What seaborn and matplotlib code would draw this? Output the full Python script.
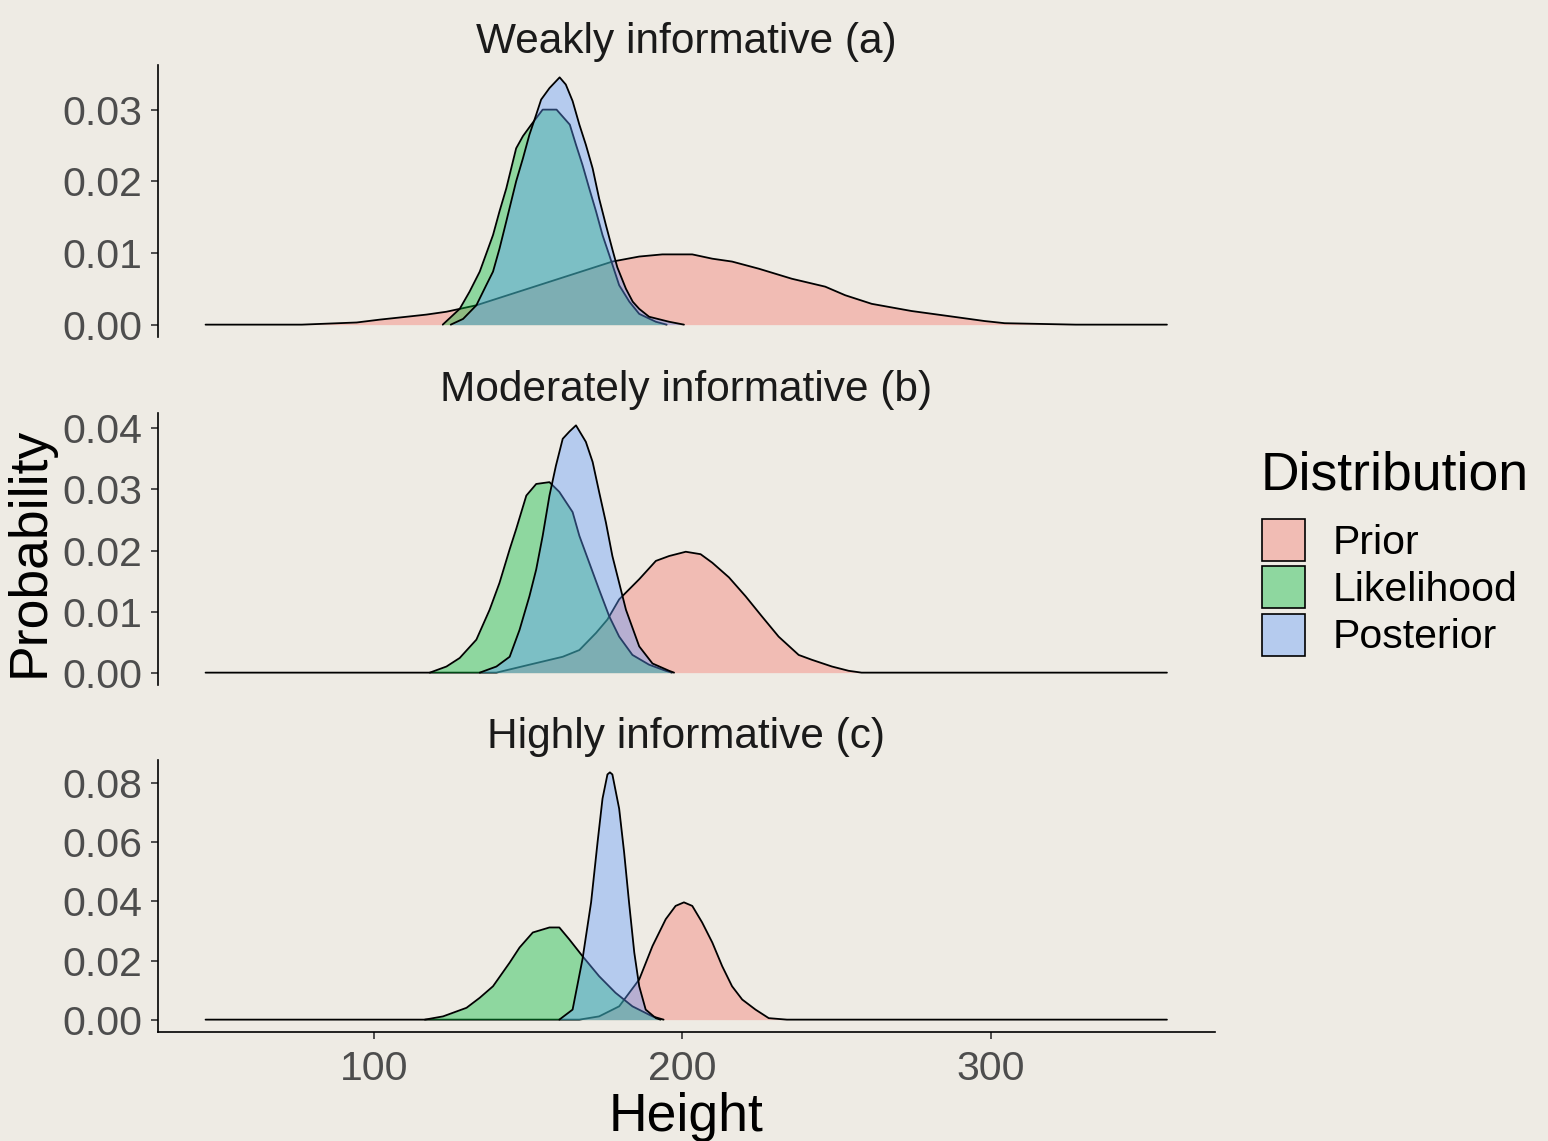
import numpy as np
import pandas as pd
import matplotlib
matplotlib.use("Agg")
import matplotlib.pyplot as plt
import matplotlib.colors as mcolors
from matplotlib.patches import Patch, Rectangle
from matplotlib.legend_handler import HandlerPatch
import seaborn as sns

# ---------------- data ----------------
panel_titles = ["Weakly informative (a)", "Moderately informative (b)", "Highly informative (c)"]
dist_names = ["Prior", "Likelihood", "Posterior"]
dist_colors = ["#F8766D", "#00BA38", "#619CFF"]
x_label = "Height"
y_label = "Probability"
legend_title = "Distribution"
x_ticks = [100, 200, 300]
y_ticks_a = [0.00, 0.01, 0.02, 0.03]
y_ticks_b = [0.00, 0.01, 0.02, 0.03, 0.04]
y_ticks_c = [0.00, 0.02, 0.04, 0.06, 0.08]

# Panel (a) weakly informative
prior_a_x = [45.5, 76.7, 94.5, 102.0, 110.7, 117.1, 123.6, 133.3, 177.4, 186.1, 193.6, 203.3,
             209.8, 216.2, 224.9, 235.6, 246.4, 252.9, 261.5, 274.4, 286.3, 298.1, 304.6, 327.6, 357.2]
prior_a_y = [0.0, 0.0, 0.0003, 0.0007, 0.0011, 0.0014, 0.0018, 0.0027, 0.0088, 0.0095, 0.0098, 0.0098,
             0.0092, 0.0088, 0.0078, 0.0064, 0.0053, 0.0041, 0.0029, 0.0019, 0.0012, 0.0005, 0.0002, 0.0, 0.0]
lik_a_x = [122.4, 127.9, 131.1, 134.4, 138.7, 140.8, 143.0, 144.6, 146.2, 148.4, 151.1, 154.8, 159.3,
           163.6, 165.6, 167.7, 169.9, 172.1, 174.2, 176.4, 179.6, 182.9, 186.1, 191.5, 195.0]
lik_a_y = [0.0, 0.0022, 0.0046, 0.0074, 0.0125, 0.0158, 0.0190, 0.0218, 0.0246, 0.0263, 0.0279, 0.0300, 0.0300,
           0.0279, 0.0251, 0.0223, 0.0190, 0.0158, 0.0125, 0.0097, 0.0055, 0.0032, 0.0015, 0.0004, 0.0]
post_a_x = [125.0, 129.0, 133.3, 136.5, 138.7, 140.8, 143.0, 144.6, 146.2, 148.4, 150.5, 152.7, 154.3,
            157.0, 160.3, 162.3, 164.5, 166.7, 168.8, 171.0, 173.1, 175.3, 177.4, 179.0, 181.8, 184.0,
            186.1, 189.3, 195.8, 200.6]
post_a_y = [0.0, 0.0008, 0.0027, 0.0055, 0.0074, 0.0106, 0.0144, 0.0172, 0.0200, 0.0232, 0.0265, 0.0293, 0.0314,
            0.0330, 0.0345, 0.0335, 0.0312, 0.0279, 0.0251, 0.0218, 0.0176, 0.0139, 0.0105, 0.0080, 0.0050, 0.0032,
            0.0022, 0.0011, 0.0004, 0.0]

# Panel (b) moderately informative
prior_b_x = [45.5, 139.8, 150.5, 161.3, 166.7, 172.1, 175.8, 179.6, 186.1, 191.5, 195.8, 201.2, 206.0,
             209.8, 215.2, 220.6, 225.9, 231.3, 237.8, 242.1, 248.6, 254.0, 258.2, 357.2]
prior_b_y = [0.0, 0.0, 0.0013, 0.0026, 0.0037, 0.0065, 0.0087, 0.0120, 0.0153, 0.0183, 0.0191, 0.0198, 0.0194,
             0.0180, 0.0156, 0.0125, 0.0092, 0.0059, 0.0029, 0.0021, 0.0010, 0.0003, 0.0, 0.0]
lik_b_x = [118.2, 123.6, 127.9, 133.3, 137.6, 140.8, 144.1, 146.2, 149.5, 152.7, 157.0, 160.2, 164.5,
           166.7, 169.9, 173.1, 176.4, 179.6, 183.9, 189.3, 194.7, 196.7]
lik_b_y = [0.0, 0.0010, 0.0024, 0.0054, 0.0103, 0.0147, 0.0202, 0.0235, 0.0290, 0.0309, 0.0312, 0.0296, 0.0263,
           0.0224, 0.0180, 0.0136, 0.0092, 0.0059, 0.0029, 0.0013, 0.0003, 0.0]
post_b_x = [134.4, 139.8, 144.1, 147.3, 150.5, 152.7, 154.8, 157.0, 159.1, 161.3, 163.5, 165.6, 168.8,
            171.0, 173.1, 175.3, 177.4, 179.6, 181.8, 186.1, 190.4, 195.8, 197.4]
post_b_y = [0.0, 0.0010, 0.0026, 0.0070, 0.0125, 0.0169, 0.0224, 0.0290, 0.0339, 0.0383, 0.0395, 0.0405, 0.0378,
            0.0345, 0.0296, 0.0246, 0.0191, 0.0147, 0.0103, 0.0043, 0.0015, 0.0003, 0.0]

# Panel (c) highly informative
prior_c_x = [45.5, 166.7, 173.1, 179.6, 186.1, 190.4, 194.7, 197.9, 200.6, 203.3, 206.5, 209.8, 213.0,
             216.2, 219.5, 223.8, 228.1, 234.0, 357.2]
prior_c_y = [0.0, 0.0, 0.0011, 0.0045, 0.0136, 0.0249, 0.0340, 0.0385, 0.0397, 0.0385, 0.0329, 0.0261, 0.0181,
             0.0113, 0.0068, 0.0034, 0.0005, 0.0, 0.0]
lik_c_x = [116.6, 122.5, 130.1, 134.4, 138.7, 144.1, 147.3, 151.6, 157.0, 160.2, 163.4, 167.7, 173.1,
           178.4, 183.9, 190.4, 194.0]
lik_c_y = [0.0, 0.0011, 0.0040, 0.0074, 0.0113, 0.0193, 0.0244, 0.0295, 0.0312, 0.0312, 0.0272, 0.0215, 0.0147,
           0.0091, 0.0045, 0.0011, 0.0]
post_c_x = [160.2, 164.5, 167.7, 170.5, 172.6, 174.2, 175.8, 176.6, 177.4, 179.6, 181.2, 182.8, 184.5,
            186.1, 188.2, 191.5, 193.0]
post_c_y = [0.0, 0.0034, 0.0204, 0.0397, 0.0601, 0.0748, 0.0830, 0.0837, 0.0830, 0.0714, 0.0567, 0.0397, 0.0227,
            0.0113, 0.0034, 0.0005, 0.0]

# ---------------- assemble long table ----------------
series = [
    (0, "Prior", prior_a_x, prior_a_y), (0, "Likelihood", lik_a_x, lik_a_y), (0, "Posterior", post_a_x, post_a_y),
    (1, "Prior", prior_b_x, prior_b_y), (1, "Likelihood", lik_b_x, lik_b_y), (1, "Posterior", post_b_x, post_b_y),
    (2, "Prior", prior_c_x, prior_c_y), (2, "Likelihood", lik_c_x, lik_c_y), (2, "Posterior", post_c_x, post_c_y),
]
frames = []
for p, d, xs, ys in series:
    frames.append(pd.DataFrame({"panel": panel_titles[p], "dist": d, "x": xs, "y": ys}))
df = pd.concat(frames, ignore_index=True)
y_ticks_all = [y_ticks_a, y_ticks_b, y_ticks_c]

# ---------------- styling ----------------
sns.set_theme(style="white")
plt.rcParams["font.family"] = ["Liberation Sans", "DejaVu Sans"]

BG = "#EEEBE4"
TICK_COL = "#4D4D4D"
BASE = 29.5
STRIP = 30.5
TITLE = 38.5
ALPHA = 0.4
LW = 1.3

W, H = 1548, 1141
fig = plt.figure(figsize=(W / 100, H / 100), dpi=100, facecolor=BG)

left_px, right_px = 157.5, 1215
panel_tops = [65, 413, 760]
panel_h = 272

xmin, xmax = df["x"].min(), df["x"].max()
xr = xmax - xmin
xlim = (xmin - 0.05 * xr, xmax + 0.05 * xr)

color_map = dict(zip(dist_names, dist_colors))
axes = []
for i, title in enumerate(panel_titles):
    top = panel_tops[i]
    ax = fig.add_axes([left_px / W, 1 - (top + panel_h) / H, (right_px - left_px) / W, panel_h / H])
    ax.set_facecolor(BG)
    sub = df[df["panel"] == title]
    for k, d in enumerate(dist_names):
        s = sub[sub["dist"] == d]
        ax.fill_between(s["x"], 0, s["y"], color=color_map[d], alpha=ALPHA, linewidth=0, zorder=2 + 2 * k)
        sns.lineplot(data=s, x="x", y="y", color="black", linewidth=LW, ax=ax,
                     zorder=2.5 + 2 * k, legend=False, sort=True, estimator=None)
    ymax = sub["y"].max()
    ax.set_ylim(-0.05 * ymax, 1.05 * ymax)
    ax.set_xlim(*xlim)
    ax.set_yticks(y_ticks_all[i])
    ax.set_yticklabels([f"{v:.2f}" for v in y_ticks_all[i]])
    ax.set_xlabel("")
    ax.set_ylabel("")
    for sp in ["top", "right"]:
        ax.spines[sp].set_visible(False)
    ax.spines["left"].set_color("black")
    ax.spines["left"].set_linewidth(1.2)
    if i < 2:
        ax.spines["bottom"].set_visible(False)
        ax.tick_params(axis="x", bottom=False, labelbottom=False)
    else:
        ax.spines["bottom"].set_color("black")
        ax.spines["bottom"].set_linewidth(1.2)
        ax.set_xticks(x_ticks)
        ax.set_xticklabels([str(v) for v in x_ticks])
        ax.tick_params(axis="x", bottom=True, length=5, width=1.2, color="#333333",
                       labelsize=BASE, labelcolor=TICK_COL, pad=8)
    ax.tick_params(axis="y", left=True, length=5, width=1.2, color="#333333",
                   labelsize=BASE, labelcolor=TICK_COL, pad=6)
    ax.grid(False)
    ax.text(0.5, 1 + 23 / panel_h, title, transform=ax.transAxes, ha="center", va="center",
            fontsize=STRIP, color="#1A1A1A")
    axes.append(ax)

# axis titles
fig.text((left_px + right_px) / 2 / W, 1 - 1131 / H, x_label, ha="center", va="baseline",
         fontsize=TITLE, color="black")
fig.text(30 / W, 1 - 552 / H, y_label, ha="center", va="center", rotation=90,
         fontsize=TITLE, color="black")

# legend
def full_box(legend, orig_handle, xdescent, ydescent, width, height, fontsize):
    return Rectangle((-xdescent, -ydescent), width, height)

fig.text(1261 / W, 1 - 489 / H, legend_title, ha="left", va="baseline", fontsize=TITLE, color="black")
handles = [Patch(facecolor=mcolors.to_rgba(c, ALPHA), edgecolor="black", linewidth=1.2)
           for c in dist_colors]
leg = fig.legend(handles, dist_names, loc="upper left",
                 bbox_to_anchor=(1262 / W, 1 - 519 / H), frameon=False,
                 fontsize=BASE, handlelength=1.05, handleheight=1.2,
                 handletextpad=0.68, labelspacing=0.11,
                 borderpad=0, borderaxespad=0,
                 handler_map={Patch: HandlerPatch(patch_func=full_box)})
for t in leg.get_texts():
    t.set_color("black")

fig.savefig("out.png", dpi=100, facecolor=BG)
